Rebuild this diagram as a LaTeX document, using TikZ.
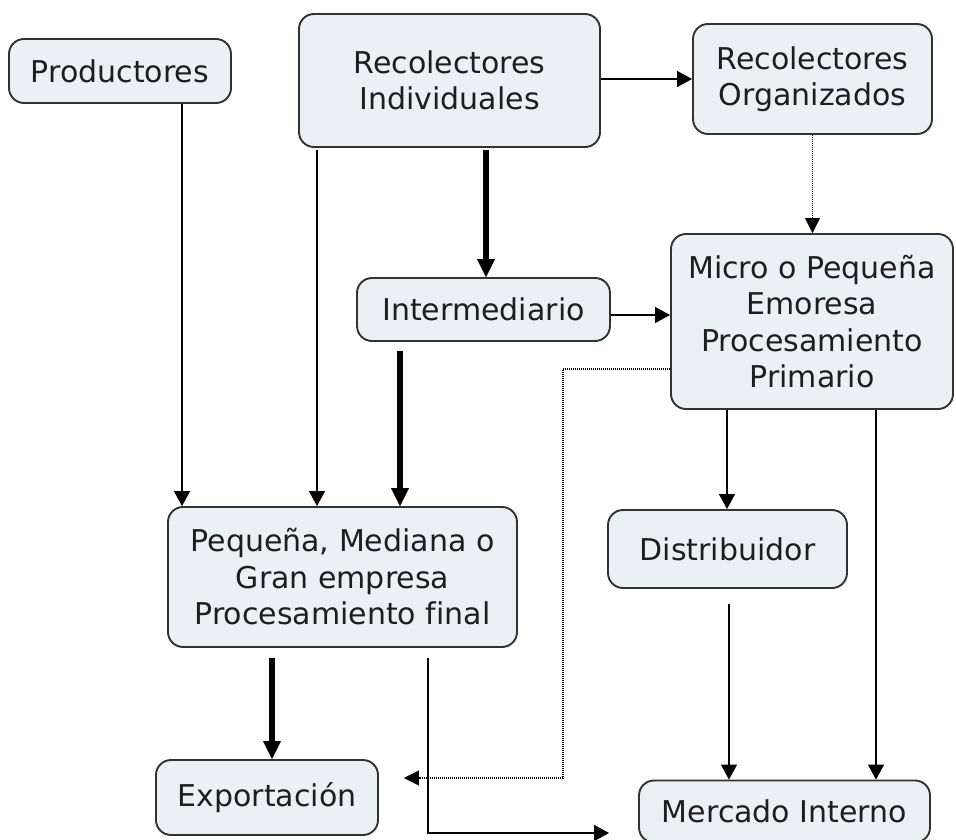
\documentclass[tikz,border=0pt]{standalone}
\usepackage{fontspec}
\setmainfont[Ligatures=NoCommon]{DejaVu Sans}
\usetikzlibrary{arrows.meta}
\definecolor{boxfill}{RGB}{234,241,244}
\definecolor{boxdraw}{RGB}{50,50,50}
\definecolor{txt}{RGB}{30,30,30}
\begin{document}
\begin{tikzpicture}[x=1pt,y=-1pt,
  concept/.style={draw=boxdraw, line width=1.9pt, fill=boxfill, rounded corners=15pt,
    inner sep=0pt, align=center, text=txt, font=\fontsize{30}{36.5}\selectfont},
  thinarrow/.style={line width=1.3pt, -{Triangle[length=15pt,width=16pt]}},
  thickarrow/.style={line width=6pt, -{Triangle[length=18pt,width=18pt,line width=0.1pt]}},
  dotarrow/.style={line width=1.2pt, dash pattern=on 1pt off 1pt, -{Triangle[length=15pt,width=15pt,line width=0.1pt]}}]
\useasboundingbox (0,0) rectangle (956,840);
\fill[white] (0,0) rectangle (956,840);

\node[concept, minimum width=222pt, minimum height=64pt] (prod) at (120,71) {Productores};
\node[concept, minimum width=301pt, minimum height=133pt] (recind) at (449.5,80.5) {Recolectores\\Individuales};
\node[concept, minimum width=239pt, minimum height=110pt] (recorg) at (812.5,79) {Recolectores\\Organizados};
\node[concept, minimum width=282pt, minimum height=175pt] (micro) at (812,321.5) {Micro o Pequeña\\Emoresa\\Procesamiento\\Primario};
\node[concept, minimum width=253pt, minimum height=63pt] (inter) at (483.5,309.5) {Intermediario};
\node[concept, minimum width=349pt, minimum height=140pt] (peq) at (342.5,577) {Pequeña, Mediana o\\Gran empresa\\Procesamiento final};
\node[concept, minimum width=239pt, minimum height=78pt] (dist) at (727.5,549) {Distribuidor};
\node[concept, minimum width=222pt, minimum height=75pt] (expo) at (267,797.5) {Exportación};
\node[concept, minimum width=291pt, minimum height=62pt] (merc) at (784.5,811.5) {Mercado Interno};

\coordinate (bend) at (563,778);

% Productores -> Pequena
\draw[thinarrow] ([xshift=62pt]prod.south) -- ([xshift=62pt]prod.south |- peq.north);
% Recolectores Individuales -> Pequena
\draw[thinarrow] ([xshift=-132.5pt,yshift=-2pt]recind.south) -- ([xshift=-132.5pt]recind.south |- peq.north);
% Recolectores Individuales -> Intermediario
\draw[thickarrow] ([xshift=36.5pt,yshift=-2pt]recind.south) -- ([xshift=36.5pt]recind.south |- inter.north);
% Recolectores Individuales -> Recolectores Organizados
\draw[thinarrow] (recorg.west -| recind.east) -- (recorg.west);
% Recolectores Organizados -> Micro
\draw[dotarrow] (recorg.south) -- (recorg.south |- micro.north);
% Intermediario -> Micro
\draw[thinarrow] ([yshift=-5.5pt]inter.east) -- ([yshift=-5.5pt]inter.east -| micro.west);
% Intermediario -> Pequena
\draw[thickarrow] ([xshift=-83.5pt,yshift=-9pt]inter.south) -- ([xshift=-83.5pt]inter.south |- peq.north);
% Micro -> Exportacion
\draw[dotarrow, shorten >=25pt] ([yshift=-47.5pt]micro.west) -| (bend) -- (bend -| expo.east);
% Micro -> Distribuidor
\draw[thinarrow] ([xshift=-85pt]micro.south) -- ([xshift=-85pt]micro.south |- dist.north);
% Micro -> Mercado
\draw[thinarrow] ([xshift=64pt]micro.south) -- ([xshift=64pt]micro.south |- merc.north);
% Distribuidor -> Mercado
\draw[thinarrow] ([xshift=1.5pt,yshift=-15pt]dist.south) -- ([xshift=1.5pt]dist.south |- merc.north);
% Pequena -> Exportacion
\draw[thickarrow] ([xshift=-70.5pt,yshift=-10pt]peq.south) -- ([xshift=-70.5pt]peq.south |- expo.north);
% Pequena -> Mercado
\draw[thinarrow, shorten >=29pt] ([xshift=85.5pt,yshift=-10pt]peq.south) |- ([yshift=-21.5pt]merc.west);
\end{tikzpicture}
\end{document}
